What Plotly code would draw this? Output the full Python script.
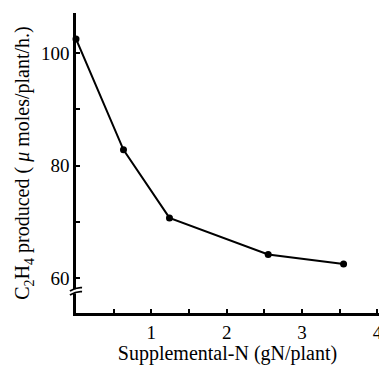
import plotly.graph_objects as go

nitrogen = [0.0, 0.63, 1.24, 2.55, 3.55]
ethylene = [102.5, 82.8, 70.7, 64.2, 62.5]
x_tick_vals = [0.5, 1, 1.5, 2, 2.5, 3, 3.5, 4]
x_tick_text = ["", "1", "", "2", "", "3", "", "4"]
y_tick_vals = [60, 70, 80, 90, 100]
y_tick_text = ["60", "", "80", "", "100"]

font = "Liberation Serif, Times New Roman, serif"

fig = go.Figure()
fig.add_trace(go.Scatter(
    x=nitrogen, y=ethylene, mode="lines+markers",
    line=dict(color="black", width=2),
    marker=dict(color="black", size=7),
    cliponaxis=False, showlegend=False,
))

fig.update_layout(
    width=379, height=365,
    margin=dict(l=76, r=0, t=13, b=52),
    paper_bgcolor="white", plot_bgcolor="white",
    font=dict(family=font, color="black", size=20),
    xaxis=dict(
        range=[0, 4.02], showgrid=False, zeroline=False, automargin=False,
        showline=True, linecolor="black", linewidth=2.5,
        ticks="inside", ticklen=4, tickwidth=2, tickcolor="black",
        tickvals=x_tick_vals, ticktext=x_tick_text, ticklabeloverflow="allow",
        tickfont=dict(size=19, family=font),
        title=dict(text="Supplemental-N (gN/plant)", font=dict(size=20, family=font), standoff=7),
    ),
    yaxis=dict(
        range=[53.8, 107.1], showgrid=False, zeroline=False, automargin=False,
        showline=True, linecolor="black", linewidth=2.5,
        ticks="inside", ticklen=4, tickwidth=2, tickcolor="black",
        tickvals=y_tick_vals, ticktext=y_tick_text, ticklabeloverflow="allow",
        tickfont=dict(size=19, family=font),
        title=dict(text="C<sub>2</sub>H<sub>4</sub> produced ( <i>μ</i> moles/plant/h.)",
                   font=dict(size=20, family=font), standoff=6),
    ),
)

# axis break symbol on the y axis
fig.add_shape(type="rect", xref="paper", yref="y", x0=-0.02, x1=0.02, y0=57.3, y1=58.0,
              fillcolor="white", line=dict(width=0))
for yb in (57.3, 58.0):
    fig.add_shape(type="path", xref="paper", yref="y",
                  path=f"M -0.02 {yb-0.3} Q 0 {yb+0.4} 0.02 {yb+0.3}",
                  line=dict(color="black", width=1.8))

fig.write_html("out.html", config={"displayModeBar": False},
               post_script="document.body.style.margin='0';")
